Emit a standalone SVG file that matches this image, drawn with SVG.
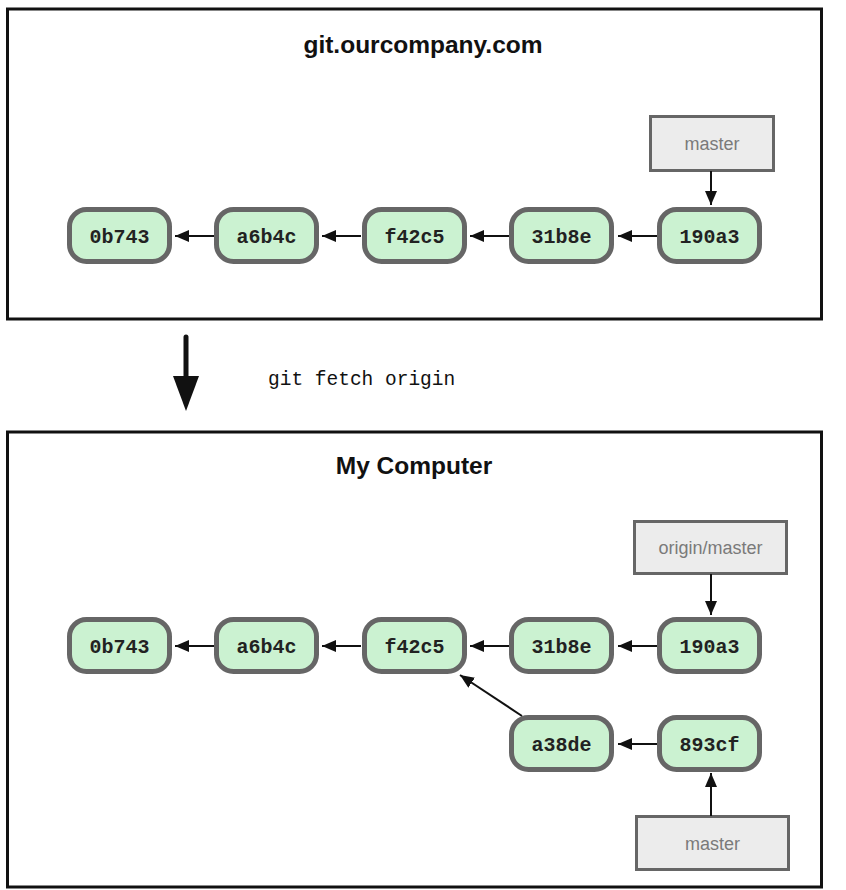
<svg xmlns="http://www.w3.org/2000/svg" width="846" height="890" viewBox="0 0 846 890">
  <style>
    .frame { fill: #ffffff; stroke: #111111; stroke-width: 3; }
    .title { font-family: "Liberation Sans", Arial, sans-serif; font-weight: bold; font-size: 24.5px; fill: #111111; text-anchor: middle; }
    .commit rect { fill: #cbf2d1; stroke: #666666; stroke-width: 5; }
    .commit text { font-family: "Liberation Mono", "Courier New", monospace; font-weight: bold; font-size: 20px; fill: #222222; text-anchor: middle; }
    .ref rect { fill: #ececec; stroke: #666666; stroke-width: 3; }
    .ref text { font-family: "Liberation Sans", Arial, sans-serif; font-size: 18px; fill: #7a7a7a; text-anchor: middle; }
    .edge { stroke: #111111; stroke-width: 2; fill: none; marker-end: url(#tip); }
    .cmd { font-family: "Liberation Mono", "Courier New", monospace; font-size: 19.5px; fill: #111111; }
  </style>
  <defs>
    <marker id="tip" markerUnits="userSpaceOnUse" markerWidth="14" markerHeight="12" refX="14" refY="6" orient="auto">
      <path d="M0,0 L14,6 L0,12 z" fill="#111111"/>
    </marker>
  </defs>

  <rect width="846" height="890" fill="#ffffff"/>

  <!-- server repository -->
  <g id="server">
    <rect class="frame" x="7.5" y="9" width="814" height="310"/>
    <text class="title" x="423" y="53">git.ourcompany.com</text>
  </g>
  <g id="s-0b743" class="commit"><rect x="69.5" y="209.5" width="100" height="52" rx="17"/><text x="119.5" y="242.5">0b743</text></g>
  <g id="s-a6b4c" class="commit"><rect x="216.5" y="209.5" width="100" height="52" rx="17"/><text x="266.5" y="242.5">a6b4c</text></g>
  <g id="s-f42c5" class="commit"><rect x="364.5" y="209.5" width="100" height="52" rx="17"/><text x="414.5" y="242.5">f42c5</text></g>
  <g id="s-31b8e" class="commit"><rect x="511.5" y="209.5" width="100" height="52" rx="17"/><text x="561.5" y="242.5">31b8e</text></g>
  <g id="s-190a3" class="commit"><rect x="659.5" y="209.5" width="100" height="52" rx="17"/><text x="709.5" y="242.5">190a3</text></g>
  <g id="s-master" class="ref"><rect x="650.5" y="116.5" width="123" height="54"/><text x="712" y="150">master</text></g>

  <!-- local repository -->
  <g id="local">
    <rect class="frame" x="7.5" y="432" width="814" height="455"/>
    <text class="title" x="414" y="474">My Computer</text>
  </g>
  <g id="l-0b743" class="commit"><rect x="69.5" y="619.5" width="100" height="52" rx="17"/><text x="119.5" y="652.5">0b743</text></g>
  <g id="l-a6b4c" class="commit"><rect x="216.5" y="619.5" width="100" height="52" rx="17"/><text x="266.5" y="652.5">a6b4c</text></g>
  <g id="l-f42c5" class="commit"><rect x="364.5" y="619.5" width="100" height="52" rx="17"/><text x="414.5" y="652.5">f42c5</text></g>
  <g id="l-31b8e" class="commit"><rect x="511.5" y="619.5" width="100" height="52" rx="17"/><text x="561.5" y="652.5">31b8e</text></g>
  <g id="l-190a3" class="commit"><rect x="659.5" y="619.5" width="100" height="52" rx="17"/><text x="709.5" y="652.5">190a3</text></g>
  <g id="l-a38de" class="commit"><rect x="511.5" y="717.5" width="100" height="52" rx="17"/><text x="561.5" y="750.5">a38de</text></g>
  <g id="l-893cf" class="commit"><rect x="659.5" y="717.5" width="100" height="52" rx="17"/><text x="709.5" y="750.5">893cf</text></g>
  <g id="l-origin-master" class="ref"><rect x="634.5" y="521.5" width="152" height="52"/><text x="710.5" y="554">origin/master</text></g>
  <g id="l-master" class="ref"><rect x="636.5" y="816.5" width="152" height="53"/><text x="712.5" y="850">master</text></g>

  <!-- fetch step -->
  <g id="fetch">
    <line x1="186" y1="337" x2="186" y2="380" stroke="#111111" stroke-width="5" stroke-linecap="round"/>
    <path d="M173,376 L199,376 L186,411 z" fill="#111111"/>
    <text class="cmd" x="268" y="385">git fetch origin</text>
  </g>

  <!-- parent links and ref pointers -->
  <g id="connectors">
    <line class="edge" x1="214" y1="236" x2="175" y2="236"/>
    <line class="edge" x1="361" y1="236" x2="322" y2="236"/>
    <line class="edge" x1="509" y1="236" x2="470" y2="236"/>
    <line class="edge" x1="657" y1="236" x2="618" y2="236"/>
    <line class="edge" x1="711" y1="171" x2="711" y2="205"/>

    <line class="edge" x1="214" y1="646" x2="175" y2="646"/>
    <line class="edge" x1="361" y1="646" x2="322" y2="646"/>
    <line class="edge" x1="509" y1="646" x2="470" y2="646"/>
    <line class="edge" x1="657" y1="646" x2="618" y2="646"/>
    <line class="edge" x1="657" y1="744" x2="618" y2="744"/>
    <line class="edge" x1="522" y1="716" x2="460" y2="675"/>
    <line class="edge" x1="711" y1="574" x2="711" y2="615"/>
    <line class="edge" x1="711" y1="816" x2="711" y2="773"/>
  </g>
</svg>
